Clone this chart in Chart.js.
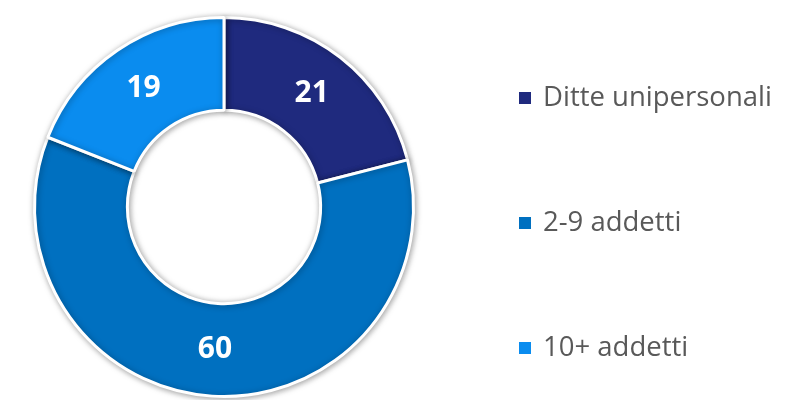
<!DOCTYPE html>
<html>
<head>
<meta charset="utf-8">
<script src="https://cdn.jsdelivr.net/npm/chart.js@4.4.0/dist/chart.umd.min.js"></script>
<style>
  html, body { margin: 0; padding: 0; background: #ffffff; }
  #wrap { position: relative; width: 799px; height: 400px; }
</style>
</head>
<body>
<div id="wrap"><canvas id="chart" width="799" height="400"></canvas></div>
<script>
// Data
const categories = ['Ditte unipersonali', '2-9 addetti', '10+ addetti'];
const values = [21, 60, 19];
const colors = ['#1F2A7E', '#0070C0', '#0A8CEF'];

/**
 * Draw the value labels in the middle of each slice
 */
const sliceLabels = {
    id: 'sliceLabels',
    afterDatasetsDraw: (chart) => {
        const ctx = chart.ctx;
        const meta = chart.getDatasetMeta(0);
        ctx.save();
        ctx.font = 'bold 30px "Open Sans"';
        ctx.fillStyle = '#ffffff';
        ctx.textAlign = 'center';
        ctx.textBaseline = 'middle';
        meta.data.forEach((arc, i) => {
            const p = arc.tooltipPosition();
            ctx.fillText(String(values[i]), p.x, p.y);
        });
        ctx.restore();
    }
};

/**
 * Legend on the right side, one row per category
 */
const sideLegend = {
    id: 'sideLegend',
    afterDraw: (chart) => {
        const ctx = chart.ctx;
        const rowsY = [98, 223, 348];
        ctx.save();
        ctx.font = '27.5px "Open Sans"';
        ctx.textAlign = 'left';
        ctx.textBaseline = 'middle';
        categories.forEach((label, i) => {
            ctx.fillStyle = colors[i];
            ctx.fillRect(519, rowsY[i] - 6, 12, 12);
            ctx.fillStyle = '#595959';
            ctx.fillText(label, 543, rowsY[i]);
        });
        ctx.restore();
    }
};

/**
 * Soft shadow under the ring
 */
const ringShadow = {
    id: 'ringShadow',
    beforeDatasetsDraw: (chart) => {
        const ctx = chart.ctx;
        ctx.save();
        ctx.shadowColor = 'rgba(0, 0, 0, 0.35)';
        ctx.shadowBlur = 6;
        ctx.shadowOffsetX = 1;
        ctx.shadowOffsetY = 1;
    },
    afterDatasetsDraw: (chart) => {
        chart.ctx.restore();
    }
};

new Chart(document.getElementById('chart'), {
    type: 'doughnut',
    data: {
        labels: categories,
        datasets: [{
            data: values,
            backgroundColor: colors,
            borderColor: '#ffffff',
            borderWidth: 3,
            hoverOffset: 0
        }]
    },
    options: {
        responsive: false,
        animation: false,
        cutout: '51%',
        layout: {
            padding: { left: 33, right: 384, top: 16, bottom: 2 }
        },
        plugins: {
            legend: { display: false },
            tooltip: { enabled: false }
        }
    },
    plugins: [ringShadow, sliceLabels, sideLegend]
});
</script>
</body>
</html>
